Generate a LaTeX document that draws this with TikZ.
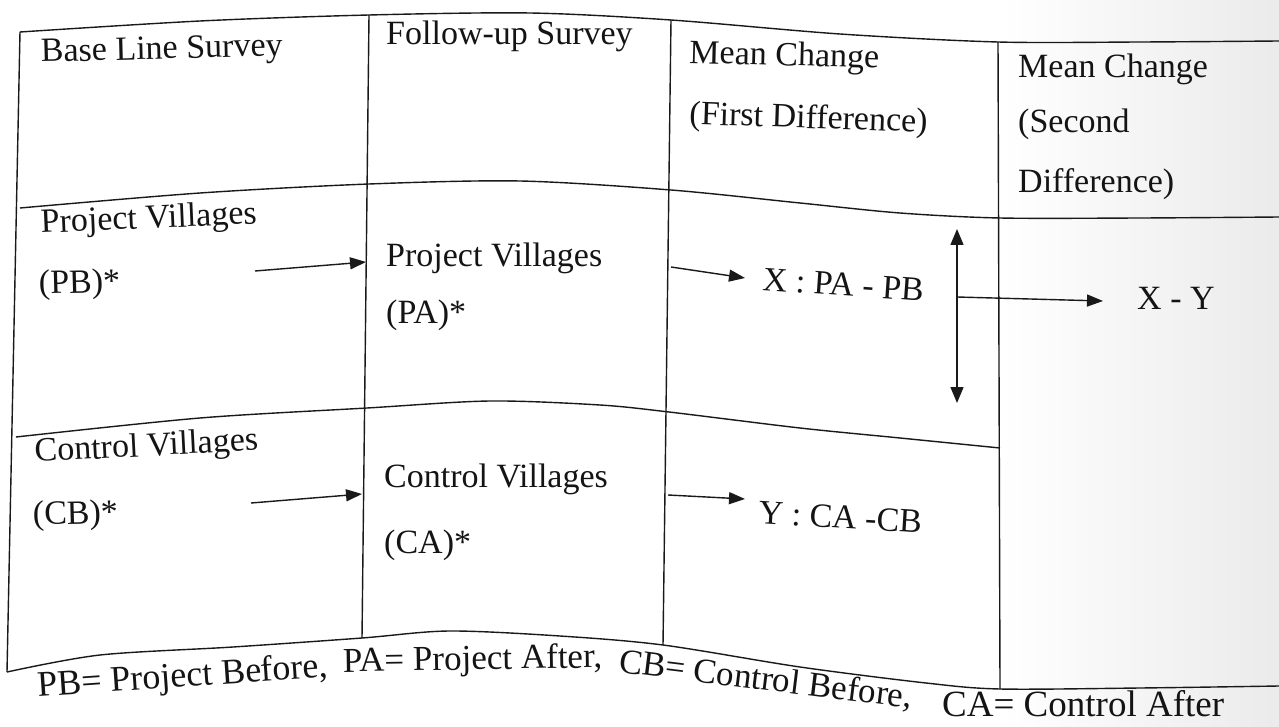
\documentclass[tikz,border=0pt]{standalone}
\usepackage{fontspec}
\setmainfont{Liberation Serif}
\usetikzlibrary{arrows.meta}
\begin{document}
\begin{tikzpicture}[x=1pt,y=-1pt,
  rule/.style={line width=1.4pt, black!90},
  arr/.style={line width=1.4pt, black!90, -{Triangle[length=16pt,width=12pt]}},
  darr/.style={line width=1.4pt, black!90, {Triangle[length=16pt,width=13pt]}-{Triangle[length=16pt,width=13pt]}},
  txt/.style={anchor=base west, inner sep=0pt, font=\fontsize{34}{40}\selectfont, text=black!92},
  foot/.style={txt, font=\fontsize{35}{40}\selectfont},
]
\useasboundingbox (0,0) rectangle (1279,727);
\fill[white] (0,0) rectangle (1279,727);
\shade[left color=white, right color=black!8] (1000,0) rectangle (1279,727);

% frame coordinates
\coordinate (tl) at (20,32);
\coordinate (bl) at (7,672);
\coordinate (c2t) at (369,15);  \coordinate (c2b) at (362,638);
\coordinate (c3t) at (671,20);  \coordinate (c3b) at (663,645);
\coordinate (c4t) at (998,42);  \coordinate (c4b) at (1000,689);
\coordinate (tr) at (1279,41);  \coordinate (br) at (1279,686);
\coordinate (hl) at (20,208);   \coordinate (hr) at (1279,217);
\coordinate (rl) at (16,437);   \coordinate (rr) at (1000,448);

% table lines
\draw[rule] plot[smooth,tension=0.5] coordinates {(tl) (200,21) (c2t) (530,13) (c3t) (840,34) (c4t) (1140,42) (tr)};
\draw[rule] plot[smooth,tension=0.5] coordinates {(hl) (200,193) (369,184) (520,181) (671,190) (800,203) (900,213) (1000,218) (1140,218) (hr)};
\draw[rule] plot[smooth,tension=0.5] coordinates {(rl) (200,418) (367,408) (490,401) (600,405) (669,412) (800,428) (900,438) (rr)};
\draw[rule] plot[smooth,tension=0.5] coordinates {(bl) (100,655) (233,647) (c2b) (449,631) (560,636) (c3b) (800,667) (926,683) (c4b) (1140,688) (br)};
\draw[rule] (tl) -- (bl);
\draw[rule] (c2t) -- (c2b);
\draw[rule] (c3t) -- (c3b);
\draw[rule] (c4t) -- (c4b);

% header texts
\node[txt, rotate=1.5] (tbase) at (41,62) {Base Line Survey};
\node[txt] (tfollow) at (386,45) {Follow-up Survey};
\node[txt, rotate=-1.5] (tmc1a) at (689,63) {Mean Change};
\node[txt, rotate=-2] (tmc1b) at (689,124) {(First Difference)};
\node[txt] (tmc2a) at (1018,78) {Mean Change};
\node[txt] (tmc2b) at (1018,133) {(Second};
\node[txt] (tmc2c) at (1018,193) {Difference)};

% project row
\node[txt, rotate=2.5] (tpv1) at (41,233) {Project Villages};
\node[txt, rotate=1.5] (tpb) at (39,294) {(PB)*};
\node[txt] (tpv2) at (386,267) {Project Villages};
\node[txt] (tpa) at (386,323) {(PA)*};
\node[txt, rotate=-4] (tx) at (762,290) {X : PA - PB};
\node[txt] (txy) at (1137,309) {X - Y};

% control row
\node[txt, rotate=3] (tcv1) at (35,462) {Control Villages};
\node[txt, rotate=1.5] (tcb) at (33,525) {(CB)*};
\node[txt] (tcv2) at (384,487) {Control Villages};
\node[txt] (tca) at (384,553) {(CA)*};
\node[txt, rotate=-3.5] (ty) at (758,523) {Y : CA -CB};

% footer
\node[foot, rotate=4, font=\fontsize{36}{40}\selectfont] (f1) at (38,697) {PB= Project Before,};
\node[foot, rotate=1] (f2) at (343,672) {PA= Project After,};
\node[foot, rotate=-7] (f3) at (618,672) {CB= Control Before,};
\node[foot, font=\fontsize{37}{40}\selectfont] (f4) at (942,716) {CA= Control After};

% arrow coordinates
\coordinate (a1s) at (255,271); \coordinate (a1e) at (366,262);
\coordinate (a2s) at (251,503); \coordinate (a2e) at (362,494);
\coordinate (a3s) at (671,267); \coordinate (a3e) at (745,278);
\coordinate (a4s) at (668,495); \coordinate (a4e) at (745,499);
\coordinate (dt) at (957,229);  \coordinate (db) at (957,403);
\coordinate (a5s) at (957,297); \coordinate (a5e) at (1103,301);

\draw[arr] (a1s) -- (a1e);
\draw[arr] (a2s) -- (a2e);
\draw[arr] (a3s) -- (a3e);
\draw[arr] (a4s) -- (a4e);
\draw[darr] (dt) -- (db);
\draw[arr] (a5s) -- (a5e);
\end{tikzpicture}
\end{document}
